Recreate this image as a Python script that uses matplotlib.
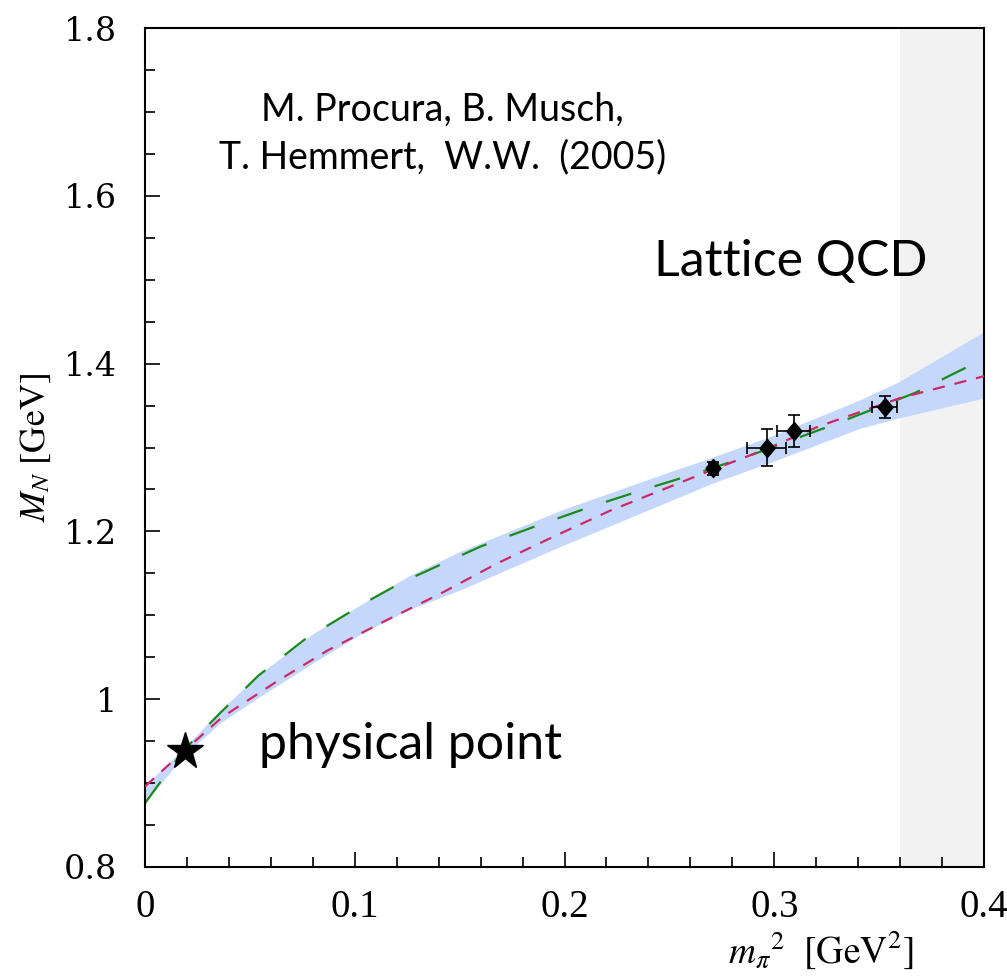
import numpy as np
import matplotlib
matplotlib.use("Agg")
import matplotlib.pyplot as plt

plt.rcParams['mathtext.fontset'] = 'stix'

# lattice data points (m_pi^2, M_N) with errors
latX = [0.271, 0.2963, 0.3092, 0.3526]
latY = [1.275, 1.2998, 1.320, 1.348]
latXerr = [0.002, 0.0095, 0.0077, 0.006]
latYerr = [0.008, 0.022, 0.019, 0.013]

# physical point
physX = [0.0190]
physY = [0.938]

# error band
bandX = [0.0, 0.019, 0.036, 0.054, 0.080, 0.103, 0.125, 0.150, 0.198, 0.250, 0.270, 0.300, 0.341, 0.359, 0.400]
bandUp = [0.897, 0.943, 0.987, 1.029, 1.078, 1.113, 1.146, 1.176, 1.225, 1.271, 1.288, 1.315, 1.357, 1.378, 1.438]
bandLo = [0.877, 0.934, 0.972, 1.002, 1.043, 1.078, 1.106, 1.130, 1.182, 1.236, 1.257, 1.284, 1.323, 1.335, 1.359]

# long dashed fit (green)
greenX = [0.0, 0.018, 0.036, 0.054, 0.076, 0.107, 0.123, 0.160, 0.186, 0.212, 0.238, 0.264, 0.289, 0.328, 0.367, 0.392]
greenY = [0.876, 0.938, 0.984, 1.028, 1.071, 1.118, 1.140, 1.182, 1.206, 1.229, 1.250, 1.270, 1.291, 1.327, 1.365, 1.396]

# short dashed fit (magenta)
magX = [0.0, 0.018, 0.037, 0.064, 0.087, 0.115, 0.141, 0.168, 0.195, 0.222, 0.247, 0.268, 0.296, 0.321, 0.360, 0.400]
magY = [0.896, 0.937, 0.979, 1.023, 1.058, 1.094, 1.126, 1.162, 1.194, 1.225, 1.250, 1.271, 1.298, 1.325, 1.359, 1.385]

fig = plt.figure(figsize=(10.07, 9.77), dpi=100)
ax = fig.add_axes([0.144, 0.1126, 0.8332, 0.8587])

# shaded region beyond lattice range
ax.axvspan(0.36, 0.40, color='#f2f2f2', lw=0, zorder=0)

ax.fill_between(bandX, bandLo, bandUp, color='#c5d8fc', lw=0, zorder=1)
ax.plot(greenX, greenY, color='#1a8a1a', lw=1.6, dashes=(12, 11), zorder=2)
ax.plot(magX, magY, color='#cc2a66', lw=1.6, dashes=(5.5, 4.5), zorder=3)

diamond = [(-0.42, 0), (0, 0.5), (0.42, 0), (0, -0.5), (-0.42, 0)]
ax.errorbar(latX, latY, xerr=latXerr, yerr=latYerr, fmt='none', ecolor='black',
            elinewidth=1.2, capsize=4, capthick=1.2, zorder=4)
ax.plot(latX, latY, ls='none', marker=diamond, ms=13, color='black', zorder=5)

ax.plot(physX, physY, ls='none', marker='*', ms=28, color='black', zorder=5)

ax.set_xlim(0, 0.4)
ax.set_ylim(0.8, 1.8)
ax.set_xticks([0, 0.1, 0.2, 0.3, 0.4])
ax.set_xticklabels(['0', '0.1', '0.2', '0.3', '0.4'], fontfamily='Liberation Serif', fontsize=28)
ax.set_xticks(np.arange(0, 0.4001, 0.02), minor=True)
ax.set_yticks([0.8, 1.0, 1.2, 1.4, 1.6, 1.8])
ax.set_yticklabels(['0.8', '1', '1.2', '1.4', '1.6', '1.8'], fontfamily='DejaVu Serif', fontsize=24)
ax.set_yticks(np.arange(0.8, 1.8001, 0.05), minor=True)
ax.tick_params(which='both', direction='in', top=False, right=False, width=1.2)
ax.tick_params(which='major', length=11)
ax.tick_params(which='minor', length=7)
ax.tick_params(axis='x', pad=16)
ax.tick_params(axis='y', pad=20)
for s in ax.spines.values():
    s.set_linewidth(1.5)

ax.set_ylabel(r'$M_N\ \mathrm{[GeV]}$', fontsize=26, labelpad=8)
ax.text(0.322, 0.701, r'$m_\pi{}^2\ \ \mathrm{[GeV^2]}$', fontsize=27, ha='center', va='center')

ax.text(0.142, 1.674, 'M. Procura, B. Musch,\nT. Hemmert,  W.W.  (2005)', fontfamily='Lato',
        fontsize=27, ha='center', va='center', linespacing=1.4)
ax.text(0.308, 1.521, 'Lattice QCD', fontfamily='Lato', fontsize=36, ha='center', va='center')
ax.text(0.1265, 0.945, 'physical point', fontfamily='Lato', fontsize=36, ha='center', va='center')

fig.savefig('out.png', dpi=100)
